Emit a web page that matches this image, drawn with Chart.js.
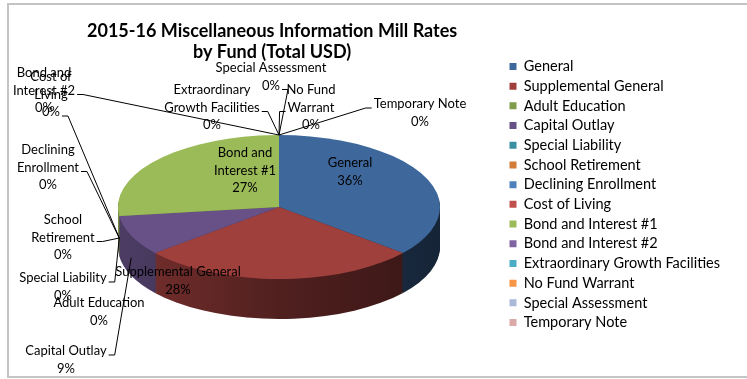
<!DOCTYPE html>
<html>
<head>
<meta charset="utf-8">
<script src="https://cdn.jsdelivr.net/npm/chart.js@4.4.1/dist/chart.umd.min.js"></script>
<style>
  html, body { margin: 0; padding: 0; background: #fff; }
  #wrap { width: 747px; height: 379px; }
</style>
</head>
<body>
<div id="wrap"><canvas id="chart" width="747" height="379"></canvas></div>
<script>
const funds = [
  'General', 'Supplemental General', 'Adult Education', 'Capital Outlay',
  'Special Liability', 'School Retirement', 'Declining Enrollment', 'Cost of Living',
  'Bond and Interest #1', 'Bond and Interest #2', 'Extraordinary Growth Facilities',
  'No Fund Warrant', 'Special Assessment', 'Temporary Note'
];
const millShare = [36, 28, 0, 9, 0, 0, 0, 0, 27, 0, 0, 0, 0, 0];
const fundColors = [
  '#3e689c', '#a0403d', '#7f9c4b', '#675187', '#3a8fa2', '#d27c38', '#4f81bd',
  '#c0504d', '#9bbb59', '#8064a2', '#4bacc6', '#f79646', '#aab9d7', '#dba9a8'
];

// where each data label sits: centre of first text line, wrap width,
// leader side ('l' / 'r') and the text row the leader starts from
const labelSpots = [
  { x: 350, y: 163, wrap: 200 },
  { x: 178, y: 272, wrap: 200 },
  { x: 99,  y: 303, wrap: 200 },
  { x: 66,  y: 351, wrap: 200, lead: 'r', row: 0 },
  { x: 63,  y: 278, wrap: 200, lead: 'r', row: 0 },
  { x: 63,  y: 220, wrap: 80,  lead: 'r', row: 1 },
  { x: 48,  y: 150, wrap: 80,  lead: 'r', row: 1 },
  { x: 51,  y: 77,  wrap: 50,  lead: 'r', row: 2 },
  { x: 245, y: 153, wrap: 80 },
  { x: 44,  y: 73,  wrap: 75,  lead: 'r', row: 1 },
  { x: 212, y: 90,  wrap: 120, lead: 'r', row: 1 },
  { x: 311, y: 90,  wrap: 60,  lead: 'l', row: 1 },
  { x: 271, y: 68,  wrap: 200, lead: 'r', row: 1 },
  { x: 420, y: 104, wrap: 200, lead: 'l', row: 0 }
];

// projected disc of the 3-D pie
const PIE = { cx: 279, cy: 207, rx: 161, ry: 72, depth: 40 };
const FONT = 'Lato, "Open Sans", sans-serif';
const LINE_H = 17.5;

function shade(hex, f) {
  const n = parseInt(hex.slice(1), 16);
  const r = Math.round(((n >> 16) & 255) * f);
  const g = Math.round(((n >> 8) & 255) * f);
  const b = Math.round((n & 255) * f);
  return `rgb(${r},${g},${b})`;
}

function slicePath(ctx, arc, dy) {
  ctx.beginPath();
  ctx.moveTo(PIE.cx, PIE.cy + dy);
  ctx.ellipse(PIE.cx, PIE.cy + dy, PIE.rx, PIE.ry, 0, arc.startAngle, arc.endAngle);
  ctx.closePath();
}

function wrapText(ctx, text, maxW) {
  const words = text.split(' ');
  const lines = [];
  let cur = '';
  words.forEach(w => {
    const test = cur ? cur + ' ' + w : w;
    if (cur && ctx.measureText(test).width > maxW) {
      lines.push(cur);
      cur = w;
    } else {
      cur = test;
    }
  });
  if (cur) lines.push(cur);
  return lines;
}

const pie3d = {
  id: 'pie3d',
  beforeDraw(chart) {
    const ctx = chart.ctx;
    ctx.save();
    ctx.fillStyle = '#fff';
    ctx.fillRect(0, 0, chart.width, chart.height);
    ctx.strokeStyle = '#c4c4c4';
    ctx.lineWidth = 2;
    ctx.strokeRect(8, 4, 780, 373);
    ctx.restore();
  },
  beforeDatasetsDraw(chart) {
    const ctx = chart.ctx;
    const arcs = chart.getDatasetMeta(0).data;
    const colors = chart.data.datasets[0].backgroundColor;
    const sides = colors.map(c => {
      const g = ctx.createLinearGradient(PIE.cx - PIE.rx, 0, PIE.cx + PIE.rx, 0);
      g.addColorStop(0, shade(c, 0.75));
      g.addColorStop(0.5, shade(c, 0.5));
      g.addColorStop(1, shade(c, 0.35));
      return g;
    });
    ctx.save();
    // side wall: the slices stacked downwards
    for (let d = PIE.depth; d > 0; d--) {
      arcs.forEach((arc, i) => {
        if (arc.endAngle - arc.startAngle <= 0) return;
        ctx.fillStyle = sides[i];
        slicePath(ctx, arc, d);
        ctx.fill();
      });
    }
    // top face
    arcs.forEach((arc, i) => {
      if (arc.endAngle - arc.startAngle <= 0) return;
      ctx.fillStyle = colors[i];
      slicePath(ctx, arc, 0);
      ctx.fill();
    });
    ctx.restore();
    return false;
  },
  afterDraw(chart) {
    const ctx = chart.ctx;
    const arcs = chart.getDatasetMeta(0).data;
    const vals = chart.data.datasets[0].data;
    const total = vals.reduce((a, b) => a + b, 0);
    ctx.save();
    ctx.font = '13px ' + FONT;
    ctx.fillStyle = '#000';
    ctx.strokeStyle = '#000';
    ctx.lineWidth = 1;
    ctx.textAlign = 'center';
    ctx.textBaseline = 'middle';
    labelSpots.forEach((s, i) => {
      const lines = wrapText(ctx, funds[i], s.wrap);
      lines.push(Math.round(vals[i] / total * 100) + '%');
      lines.forEach((t, k) => ctx.fillText(t, s.x, s.y + k * LINE_H));
      if (!s.lead) return;
      const arc = arcs[i];
      const a = (arc.startAngle + arc.endAngle) / 2;
      const sin = Math.sin(a);
      const px = PIE.cx + PIE.rx * Math.cos(a);
      const py = PIE.cy + PIE.ry * sin + (sin > 0 ? PIE.depth * 0.55 : 0);
      const w = ctx.measureText(lines[s.row]).width;
      const ly = s.y + s.row * LINE_H + 4;
      const dir = s.lead === 'r' ? 1 : -1;
      const x0 = s.x + dir * (w / 2 + 2);
      ctx.beginPath();
      ctx.moveTo(x0, ly);
      ctx.lineTo(x0 + dir * 6, ly);
      ctx.lineTo(px, py);
      ctx.stroke();
    });
    ctx.restore();
  }
};

new Chart(document.getElementById('chart'), {
  type: 'pie',
  data: {
    labels: funds,
    datasets: [{
      data: millShare,
      backgroundColor: fundColors,
      borderWidth: 0
    }]
  },
  options: {
    responsive: false,
    animation: false,
    layout: { padding: { left: 40, right: 17, top: 10 } },
    plugins: {
      title: {
        display: true,
        fullSize: false,
        text: ['2015-16 Miscellaneous Information Mill Rates', 'by Fund (Total USD)'],
        color: '#000',
        font: { family: FONT, size: 18, weight: 'bold', lineHeight: 1.2 },
        padding: { top: 10, bottom: 10 }
      },
      legend: {
        position: 'right',
        labels: {
          color: '#000',
          boxWidth: 7,
          boxHeight: 7,
          padding: 5.2,
          font: { family: FONT, size: 14.5 }
        }
      },
      tooltip: { enabled: false }
    }
  },
  plugins: [pie3d]
});
</script>
</body>
</html>
